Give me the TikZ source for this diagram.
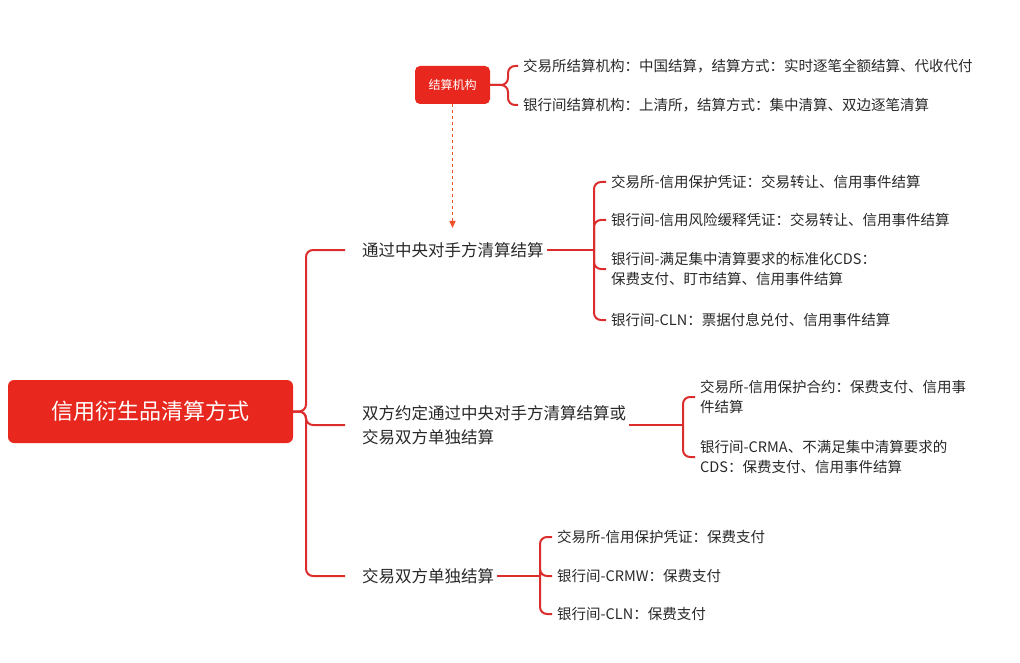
\documentclass[tikz,border=0pt]{standalone}
\usepackage{fontspec}
\setmainfont{Noto Sans CJK SC}
\usetikzlibrary{arrows.meta,positioning}
\definecolor{mmred}{RGB}{232,40,30}
\definecolor{mmline}{RGB}{220,45,45}
\definecolor{mmtext}{RGB}{40,40,40}
\definecolor{mmorange}{RGB}{240,80,40}
\tikzset{
  rootbox/.style={fill=mmred, rounded corners=6pt, text=white, minimum width=285pt, minimum height=63pt, font=\fontsize{22}{26}\selectfont},
  tagbox/.style={fill=mmred, rounded corners=5pt, text=white, minimum width=75pt, minimum height=38pt, font=\fontsize{12}{14}\selectfont},
  branch/.style={anchor=west, inner sep=0pt, text=mmtext, align=left, font=\fontsize{16.5}{24}\selectfont},
  leaf/.style={anchor=west, inner sep=0pt, text=mmtext, align=left, font=\fontsize{14.5}{20}\selectfont},
  conn/.style={mmline, line width=2pt, rounded corners=7pt},
}
\begin{document}
\begin{tikzpicture}[x=1pt,y=-1pt]
\useasboundingbox (0,0) rectangle (1020,663);
% root and tag
\node[rootbox] (root) at (150.5,411.5) {信用衍生品清算方式};
\node[tagbox] (tag) at (452.5,85) {结算机构};
% branches
\node[branch] (b1) at (362,250) {通过中央对手方清算结算};
\node[branch] (b2) at (362,425) {双方约定通过中央对手方清算结算或\\交易双方单独结算};
\node[branch] (b3) at (362,576) {交易双方单独结算};
% leaves of tag
\node[leaf] (t1) at (523,66) {交易所结算机构：中国结算，结算方式：实时逐笔全额结算、代收代付};
\node[leaf] (t2) at (523,105) {银行间结算机构：上清所，结算方式：集中清算、双边逐笔清算};
% leaves of b1
\node[leaf] (l11) at (611,182) {交易所-信用保护凭证：交易转让、信用事件结算};
\node[leaf] (l12) at (611,220) {银行间-信用风险缓释凭证：交易转让、信用事件结算};
\node[leaf] (l13) at (611,269) {银行间-满足集中清算要求的标准化CDS：\\保费支付、盯市结算、信用事件结算};
\node[leaf] (l14) at (611,320) {银行间-CLN：票据付息兑付、信用事件结算};
% leaves of b2
\node[leaf] (l21) at (700,397) {交易所-信用保护合约：保费支付、信用事\\件结算};
\node[leaf] (l22) at (700,457) {银行间-CRMA、不满足集中清算要求的\\CDS：保费支付、信用事件结算};
% leaves of b3
\node[leaf] (l31) at (557,537) {交易所-信用保护凭证：保费支付};
\node[leaf] (l32) at (557,576) {银行间-CRMW：保费支付};
\node[leaf] (l33) at (557,614) {银行间-CLN：保费支付};
% spines
\coordinate (s0) at (306,411.5);
\coordinate (st) at (508,85);
\coordinate (s1) at (594,250);
\coordinate (s2) at (683,425);
\coordinate (s3) at (540,576);
% connectors
\foreach \b in {b1,b2,b3} \draw[conn] (root.east) -- (s0) |- ([xshift=-17pt]\b.west);
\foreach \l in {t1,t2} \draw[conn] (tag.east) -- (st) |- ([xshift=-5pt]\l.west);
\draw[conn] ([xshift=3pt]b1.east) -- (s1);
\foreach \l in {l11,l12,l13,l14} \draw[conn] (s1) |- ([xshift=-5pt]\l.west);
\draw[conn] ([xshift=3pt]b2.east) -- (s2);
\foreach \l in {l21,l22} \draw[conn] (s2) |- ([xshift=-5pt]\l.west);
\draw[conn] ([xshift=3pt]b3.east) -- (s3);
\foreach \l in {l31,l32,l33} \draw[conn] (s3) |- ([xshift=-5pt]\l.west);
% dashed link
\draw[mmorange, line width=1.5pt, dashed, -{Triangle[length=7pt,width=6pt]}] (tag.south) -- (452.5,228);
\end{tikzpicture}
\end{document}
